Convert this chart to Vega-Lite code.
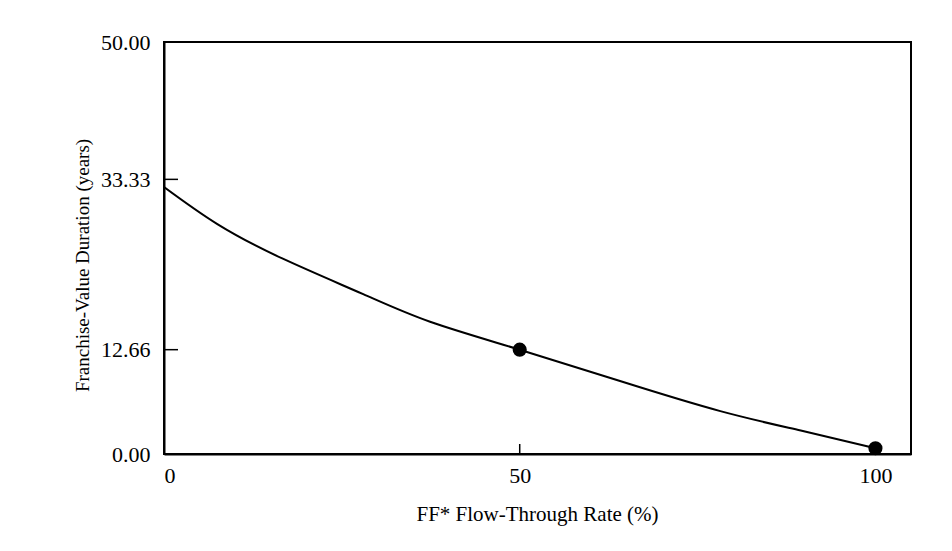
{
  "$schema": "https://vega.github.io/schema/vega-lite/v6.json",
  "width": 747,
  "height": 412,
  "autosize": {"type": "none"},
  "padding": {"left": 164, "top": 42, "right": 41, "bottom": 97},
  "background": "white",
  "config": {
    "view": {"stroke": "black", "strokeWidth": 2},
    "font": "Liberation Serif"
  },
  "datasets": {
    "curve": [
      {"x": 0, "y": 32.4},
      {"x": 7.5, "y": 27.9},
      {"x": 16.7, "y": 23.7},
      {"x": 28.0, "y": 19.4},
      {"x": 37.4, "y": 16.05},
      {"x": 50, "y": 12.66},
      {"x": 64.1, "y": 8.85},
      {"x": 78.2, "y": 5.2},
      {"x": 89.5, "y": 2.85},
      {"x": 100, "y": 0.7}
    ],
    "dots": [
      {"x": 50, "y": 12.66},
      {"x": 100, "y": 0.7}
    ],
    "yticks": [
      {"x": 0, "y": 12.66},
      {"x": 0, "y": 33.33}
    ],
    "xticks": [
      {"x": 50, "y": 0},
      {"x": 100, "y": 0}
    ]
  },
  "layer": [
    {
      "data": {"name": "curve"},
      "mark": {"type": "line", "color": "black", "strokeWidth": 2, "interpolate": "natural", "clip": true},
      "encoding": {
        "x": {
          "field": "x", "type": "quantitative",
          "scale": {"domain": [0, 105], "nice": false, "zero": false},
          "axis": {
            "values": [0, 50, 100],
            "format": "d",
            "grid": false,
            "domain": true, "domainColor": "black", "domainWidth": 2,
            "ticks": false,
            "labelPadding": 11,
            "labelFontSize": 22, "labelColor": "black", "labelFont": "Liberation Serif",
            "title": "FF* Flow-Through Rate (%)",
            "titleFont": "Liberation Serif", "titleFontSize": 21, "titleFontWeight": "normal", "titleColor": "black",
            "titleX": 373, "titleY": 60, "titleBaseline": "middle", "titleAlign": "center"
          }
        },
        "y": {
          "field": "y", "type": "quantitative",
          "scale": {"domain": [0, 50], "nice": false},
          "axis": {
            "values": [0, 12.66, 33.33, 50],
            "format": ".2f",
            "grid": false,
            "domain": true, "domainColor": "black", "domainWidth": 2,
            "ticks": false,
            "labelPadding": 14,
            "labelFontSize": 22, "labelColor": "black", "labelFont": "Liberation Serif",
            "title": "Franchise-Value Duration (years)",
            "titleFont": "Liberation Serif", "titleFontSize": 19, "titleFontWeight": "normal", "titleColor": "black",
            "titleX": -82, "titleY": 223, "titleBaseline": "middle", "titleAlign": "center", "titleAngle": -90
          }
        }
      }
    },
    {
      "data": {"name": "yticks"},
      "mark": {"type": "tick", "orient": "horizontal", "color": "black", "size": 28, "thickness": 1.5, "opacity": 1, "clip": true},
      "encoding": {
        "x": {"field": "x", "type": "quantitative"},
        "y": {"field": "y", "type": "quantitative"}
      }
    },
    {
      "data": {"name": "xticks"},
      "mark": {"type": "tick", "orient": "vertical", "color": "black", "size": 20, "thickness": 1.5, "opacity": 1, "clip": true},
      "encoding": {
        "x": {"field": "x", "type": "quantitative"},
        "y": {"field": "y", "type": "quantitative"}
      }
    },
    {
      "data": {"name": "dots"},
      "mark": {"type": "circle", "color": "black", "opacity": 1, "size": 200},
      "encoding": {
        "x": {"field": "x", "type": "quantitative"},
        "y": {"field": "y", "type": "quantitative"}
      }
    }
  ]
}
